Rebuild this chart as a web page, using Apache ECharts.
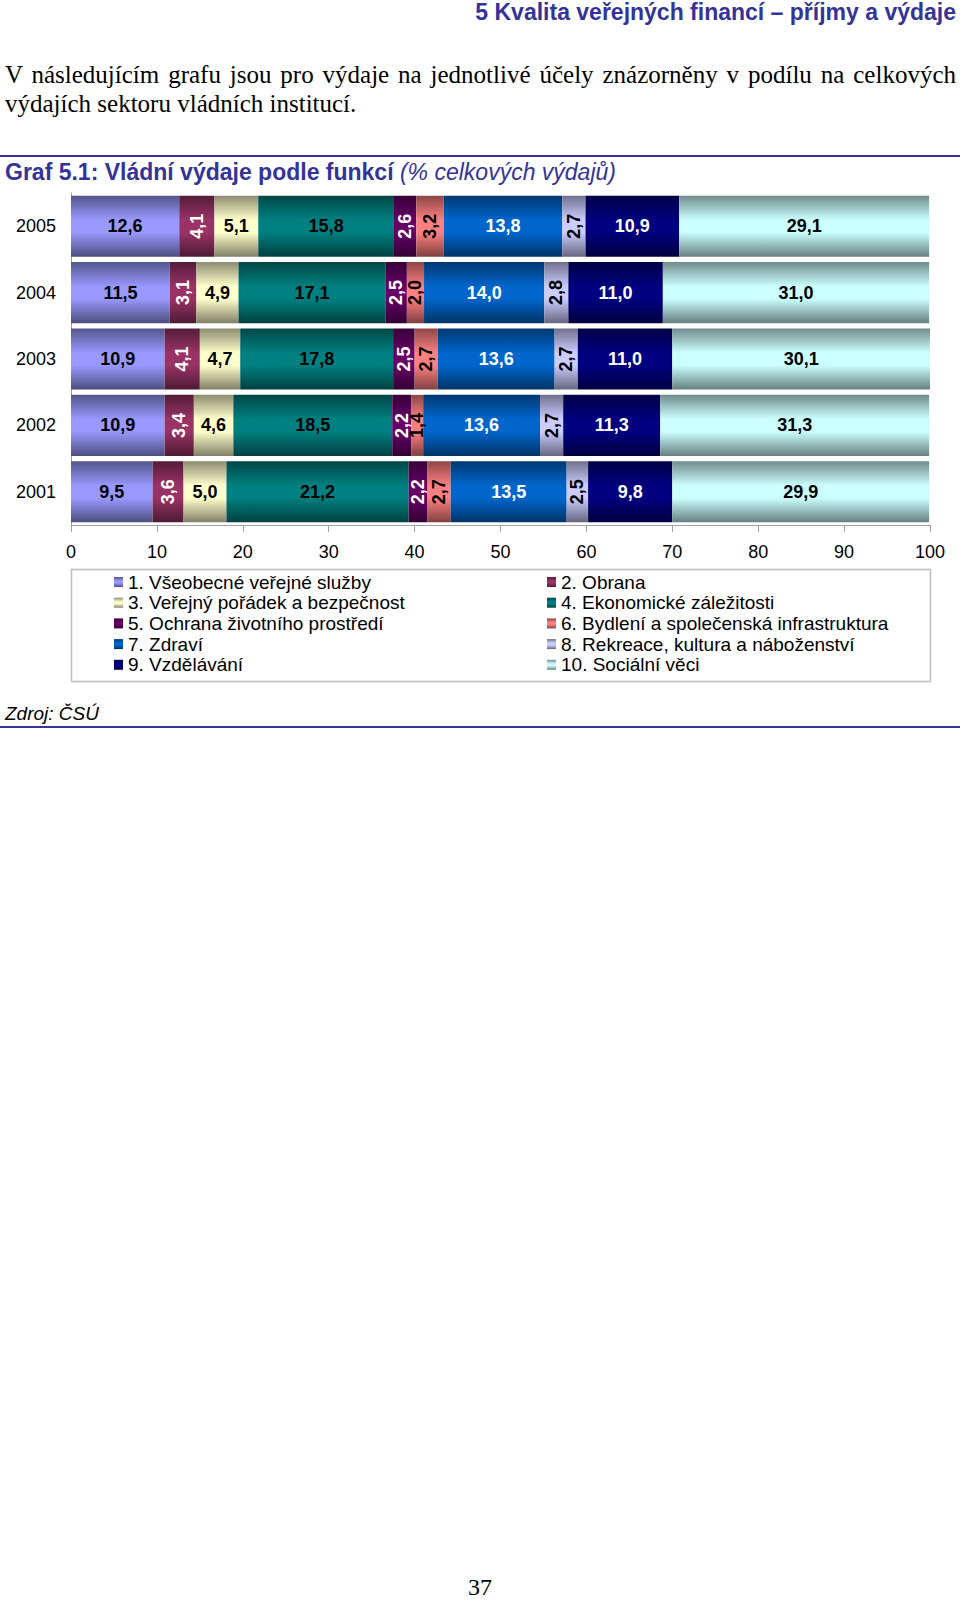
<!DOCTYPE html>
<html><head><meta charset="utf-8">
<script src="https://cdn.jsdelivr.net/npm/echarts/dist/echarts.min.js"></script>
<style>
html,body{margin:0;padding:0;background:#fff;}
#page{position:relative;width:960px;height:1600px;overflow:hidden;background:#fff;}
#chart{position:absolute;left:0;top:0;width:960px;height:1600px;}
.t{position:absolute;white-space:nowrap;}
.sans{font-family:'Liberation Sans',Arial,sans-serif;}
.serif{font-family:'Liberation Serif','Times New Roman',serif;}
.rule{position:absolute;left:0;width:960px;height:2px;background:#333399;}
</style></head><body>
<div id="page">
<div id="chart"></div>
<div class="t sans" style="right:4px;top:0px;font-size:23px;font-weight:bold;color:#333399;line-height:24px;">5 Kvalita veřejných financí – příjmy a výdaje</div>
<div class="serif" style="position:absolute;left:5px;top:61px;width:951px;font-size:25px;line-height:28.5px;text-align:justify;color:#000;">V následujícím grafu jsou pro výdaje na jednotlivé účely znázorněny v podílu na celkových výdajích sektoru vládních institucí.</div>
<div class="rule" style="top:155px;"></div>
<div class="t sans" style="left:5px;top:160px;font-size:23px;font-weight:bold;color:#333399;line-height:24px;">Graf 5.1: Vládní výdaje podle funkcí <span style="font-weight:normal;font-style:italic;">(% celkových výdajů)</span></div>
<div class="t sans" style="left:5px;top:703px;font-size:19px;font-style:italic;color:#000;line-height:22px;">Zdroj: ČSÚ</div>
<div class="rule" style="top:726px;"></div>
<div class="t serif" style="left:468px;top:1574px;font-size:24px;color:#000;line-height:26px;">37</div>
</div>
<script>
const categories = ['2001', '2002', '2003', '2004', '2005'];
const seriesNames = [
  '1. Všeobecné veřejné služby', '2. Obrana',
  '3. Veřejný pořádek a bezpečnost', '4. Ekonomické záležitosti',
  '5. Ochrana životního prostředí', '6. Bydlení a společenská infrastruktura',
  '7. Zdraví', '8. Rekreace, kultura a náboženství',
  '9. Vzdělávání', '10. Sociální věci'
];
const s1 = [9.5, 10.9, 10.9, 11.5, 12.6];
const s2 = [3.6, 3.4, 4.1, 3.1, 4.1];
const s3 = [5.0, 4.6, 4.7, 4.9, 5.1];
const s4 = [21.2, 18.5, 17.8, 17.1, 15.8];
const s5 = [2.2, 2.2, 2.5, 2.5, 2.6];
const s6 = [2.7, 1.4, 2.7, 2.0, 3.2];
const s7 = [13.5, 13.6, 13.6, 14.0, 13.8];
const s8 = [2.5, 2.7, 2.7, 2.8, 2.7];
const s9 = [9.8, 11.3, 11.0, 11.0, 10.9];
const s10 = [29.9, 31.3, 30.1, 31.0, 29.1];
const xTicks = [0, 10, 20, 30, 40, 50, 60, 70, 80, 90, 100];

const seriesData = [s1, s2, s3, s4, s5, s6, s7, s8, s9, s10];
const baseColors = ['#9999FF', '#993366', '#FFFFCC', '#008080', '#660066',
                    '#FF8080', '#0066CC', '#CCCCFF', '#000080', '#CCFFFF'];
const rotatedIdx = [1, 4, 5, 7];
const whiteLabelIdx = [1, 4, 6, 8];

function shade(hex, f) {
  const n = parseInt(hex.slice(1), 16);
  const r = Math.round(((n >> 16) & 255) * f);
  const g = Math.round(((n >> 8) & 255) * f);
  const b = Math.round((n & 255) * f);
  return 'rgb(' + r + ',' + g + ',' + b + ')';
}
function grad(hex) {
  return new echarts.graphic.LinearGradient(0, 0, 0, 1, [
    { offset: 0, color: shade(hex, 0.55) },
    { offset: 0.4, color: hex },
    { offset: 0.6, color: hex },
    { offset: 1, color: shade(hex, 0.5) }
  ]);
}
const fmt = v => v.toFixed(1).replace('.', ',');
const FONT = "'Liberation Sans', Arial, sans-serif";

const chart = echarts.init(document.getElementById('chart'), null, { renderer: 'svg' });

const series = seriesData.map((d, i) => ({
  name: seriesNames[i],
  type: 'bar',
  stack: 'total',
  data: d,
  barCategoryGap: '8%',
  itemStyle: { color: grad(baseColors[i]) },
  emphasis: { disabled: true },
  label: {
    show: true,
    position: 'inside',
    rotate: rotatedIdx.includes(i) ? 90 : 0,
    align: 'center',
    verticalAlign: 'middle',
    formatter: p => fmt(p.value),
    fontFamily: FONT,
    fontSize: 18,
    fontWeight: 'bold',
    color: whiteLabelIdx.includes(i) ? '#ffffff' : '#000000'
  }
}));

const legendCommon = {
  orient: 'vertical',
  top: 572,
  padding: 0,
  itemWidth: 9,
  itemHeight: 10,
  itemGap: 0.7,
  icon: 'rect',
  selectedMode: false,
  textStyle: { fontFamily: FONT, fontSize: 19, lineHeight: 20, color: '#000' }
};

chart.setOption({
  animation: false,
  backgroundColor: 'transparent',
  grid: { left: 71, right: 30, top: 193, height: 332 },
  xAxis: {
    type: 'value',
    min: 0, max: 100, interval: 10,
    axisLine: { show: true, lineStyle: { color: '#a0a0a0', width: 1 } },
    axisTick: { show: true, length: 7, lineStyle: { color: '#a0a0a0' } },
    splitLine: { show: false },
    axisLabel: {
      fontFamily: FONT, fontSize: 18, color: '#000', margin: 18,
      formatter: v => xTicks.includes(v) ? String(v) : ''
    }
  },
  yAxis: {
    type: 'category',
    data: categories,
    axisLine: { show: true, lineStyle: { color: '#a0a0a0', width: 1 } },
    axisTick: { show: false },
    axisLabel: { fontFamily: FONT, fontSize: 18, color: '#000', margin: 15 }
  },
  legend: [
    Object.assign({}, legendCommon, { left: 114, data: [0, 2, 4, 6, 8].map(i => seriesNames[i]) }),
    Object.assign({}, legendCommon, { left: 547, data: [1, 3, 5, 7, 9].map(i => seriesNames[i]) })
  ],
  graphic: [{
    type: 'rect',
    silent: true,
    shape: { x: 71.5, y: 569.5, width: 859, height: 112 },
    style: { fill: 'none', stroke: '#bdbdbd', lineWidth: 1.5 },
    z: -1
  }],
  series: series
});
</script>
</body></html>
